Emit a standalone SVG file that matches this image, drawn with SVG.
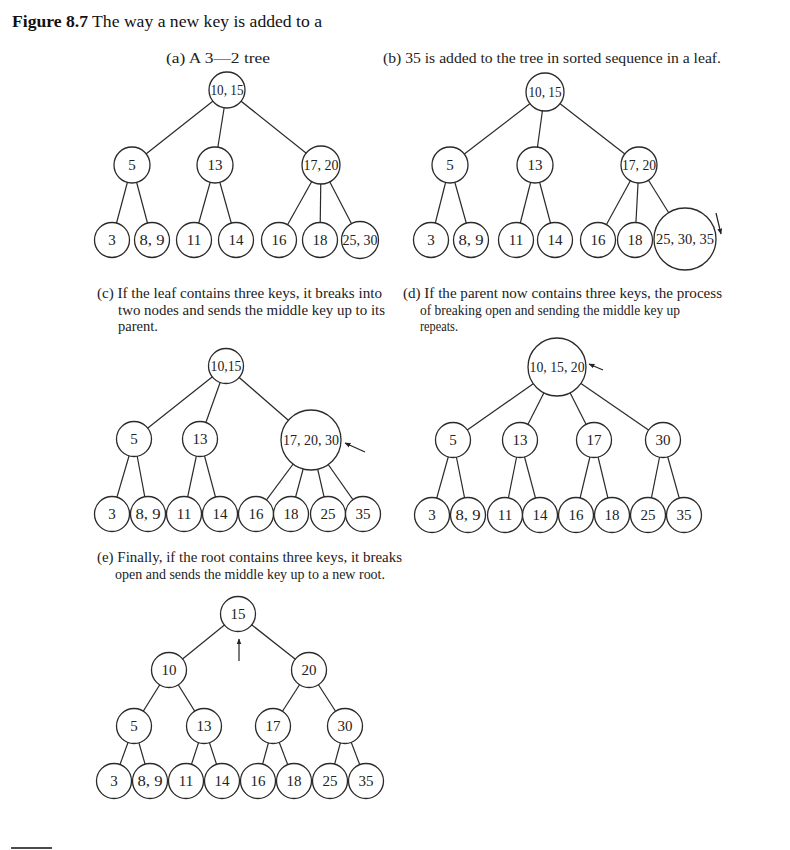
<svg xmlns="http://www.w3.org/2000/svg" width="790" height="850" viewBox="0 0 790 850">
<style>
.n circle{fill:#fff;stroke:#2a2a2a;stroke-width:1.3}
.n text{font-family:"Liberation Serif",serif;font-size:15px;fill:#222;text-anchor:middle;dominant-baseline:central}
.n text.m{font-size:14px}
.e line{stroke:#2a2a2a;stroke-width:1.2}
.a line{stroke:#222;stroke-width:1.2;marker-end:url(#ah)}
.cap{font-family:"Liberation Serif",serif;font-size:14px;fill:#222}
</style>
<defs>
<marker id="ah" viewBox="0 0 10 10" refX="9" refY="5" markerWidth="6" markerHeight="6" orient="auto" markerUnits="userSpaceOnUse">
<path d="M0,1 L10,5 L0,9 z" fill="#222"/>
</marker>
</defs>
<rect width="790" height="850" fill="#fff"/>
<text x="12" y="27" font-family="Liberation Serif,serif" font-size="17" fill="#111" textLength="310" lengthAdjust="spacingAndGlyphs"><tspan font-weight="bold">Figure 8.7</tspan> The way a new key is added to a</text>

<!-- captions -->
<g id="captions">
<text class="cap" x="166" y="63" textLength="104" lengthAdjust="spacingAndGlyphs">(a) A 3—2 tree</text>
<text class="cap" x="383" y="63" textLength="338" lengthAdjust="spacingAndGlyphs">(b) 35 is added to the tree in sorted sequence in a leaf.</text>
<text class="cap" x="97" y="298" textLength="285" lengthAdjust="spacingAndGlyphs">(c) If the leaf contains three keys, it breaks into</text>
<text class="cap" x="118" y="315" textLength="267" lengthAdjust="spacingAndGlyphs">two nodes and sends the middle key up to its</text>
<text class="cap" x="118" y="331" textLength="40" lengthAdjust="spacingAndGlyphs">parent.</text>
<text class="cap" x="403" y="298" textLength="319" lengthAdjust="spacingAndGlyphs">(d) If the parent now contains three keys, the process</text>
<text class="cap" x="420" y="315" textLength="260" lengthAdjust="spacingAndGlyphs">of breaking open and sending the middle key up</text>
<text class="cap" x="420" y="331" textLength="38" lengthAdjust="spacingAndGlyphs">repeats.</text>
<text class="cap" x="97" y="562" textLength="305" lengthAdjust="spacingAndGlyphs">(e) Finally, if the root contains three keys, it breaks</text>
<text class="cap" x="115" y="579" textLength="270" lengthAdjust="spacingAndGlyphs">open and sends the middle key up to a new root.</text>
</g>

<!-- connectors -->
<g id="connectors">
<g class="e">
<!-- a -->
<line x1="227" y1="90" x2="132" y2="165"/><line x1="227" y1="90" x2="215" y2="165"/><line x1="227" y1="90" x2="321" y2="165"/>
<line x1="132" y1="165" x2="112" y2="240"/><line x1="132" y1="165" x2="152" y2="240"/>
<line x1="215" y1="165" x2="194" y2="240"/><line x1="215" y1="165" x2="236" y2="240"/>
<line x1="321" y1="165" x2="279" y2="240"/><line x1="321" y1="165" x2="320" y2="240"/><line x1="321" y1="165" x2="360" y2="240"/>
<!-- b -->
<line x1="545" y1="92" x2="450" y2="165"/><line x1="545" y1="92" x2="535" y2="165"/><line x1="545" y1="92" x2="639" y2="165"/>
<line x1="450" y1="165" x2="431" y2="240"/><line x1="450" y1="165" x2="471" y2="240"/>
<line x1="535" y1="165" x2="516" y2="240"/><line x1="535" y1="165" x2="555" y2="240"/>
<line x1="639" y1="165" x2="598" y2="240"/><line x1="639" y1="165" x2="635" y2="240"/><line x1="639" y1="165" x2="685" y2="239"/>
<!-- c -->
<line x1="226" y1="366" x2="134" y2="439"/><line x1="226" y1="366" x2="200" y2="439"/><line x1="226" y1="366" x2="311" y2="440"/>
<line x1="134" y1="439" x2="112" y2="514"/><line x1="134" y1="439" x2="148" y2="514"/>
<line x1="200" y1="439" x2="184" y2="514"/><line x1="200" y1="439" x2="220" y2="514"/>
<line x1="311" y1="440" x2="256" y2="514"/><line x1="311" y1="440" x2="291" y2="514"/><line x1="311" y1="440" x2="328" y2="514"/><line x1="311" y1="440" x2="363" y2="514"/>
<!-- d -->
<line x1="557" y1="367" x2="453" y2="440"/><line x1="557" y1="367" x2="520" y2="440"/><line x1="557" y1="367" x2="594" y2="440"/><line x1="557" y1="367" x2="663" y2="440"/>
<line x1="453" y1="440" x2="432" y2="515"/><line x1="453" y1="440" x2="468" y2="515"/>
<line x1="520" y1="440" x2="505" y2="515"/><line x1="520" y1="440" x2="540" y2="515"/>
<line x1="594" y1="440" x2="576" y2="515"/><line x1="594" y1="440" x2="612" y2="515"/>
<line x1="663" y1="440" x2="648" y2="515"/><line x1="663" y1="440" x2="684" y2="515"/>
<!-- e -->
<line x1="238" y1="614" x2="169" y2="670"/><line x1="238" y1="614" x2="309" y2="670"/>
<line x1="169" y1="670" x2="134" y2="726"/><line x1="169" y1="670" x2="204" y2="726"/>
<line x1="309" y1="670" x2="273" y2="726"/><line x1="309" y1="670" x2="345" y2="726"/>
<line x1="134" y1="726" x2="114" y2="781"/><line x1="134" y1="726" x2="150" y2="781"/>
<line x1="204" y1="726" x2="186" y2="781"/><line x1="204" y1="726" x2="222" y2="781"/>
<line x1="273" y1="726" x2="258" y2="781"/><line x1="273" y1="726" x2="294" y2="781"/>
<line x1="345" y1="726" x2="330" y2="781"/><line x1="345" y1="726" x2="366" y2="781"/>
</g>
<g class="a">
<line x1="716" y1="213" x2="721" y2="234"/>
<line x1="365" y1="452" x2="345" y2="443"/>
<line x1="603" y1="370" x2="589" y2="364"/>
<line x1="239" y1="661" x2="239" y2="639"/>
</g>
</g>

<!-- tree a -->
<g id="tree-a" class="n">
<g id="a-root"><circle cx="227" cy="90" r="18"/><text class="m" x="227" y="90" textLength="33" lengthAdjust="spacingAndGlyphs">10, 15</text></g>
<g id="a-5"><circle cx="132" cy="165" r="18"/><text x="132" y="165">5</text></g>
<g id="a-13"><circle cx="215" cy="165" r="18"/><text x="215" y="165">13</text></g>
<g id="a-1720"><circle cx="321" cy="165" r="19"/><text class="m" x="321" y="165" textLength="35" lengthAdjust="spacingAndGlyphs">17, 20</text></g>
<g id="a-3"><circle cx="112" cy="240" r="17.5"/><text x="112" y="240">3</text></g>
<g id="a-89"><circle cx="152" cy="240" r="17.5"/><text class="m" x="152" y="240" textLength="25" lengthAdjust="spacingAndGlyphs">8, 9</text></g>
<g id="a-11"><circle cx="194" cy="240" r="17.5"/><text x="194" y="240">11</text></g>
<g id="a-14"><circle cx="236" cy="240" r="17.5"/><text x="236" y="240">14</text></g>
<g id="a-16"><circle cx="279" cy="240" r="17.5"/><text x="279" y="240">16</text></g>
<g id="a-18"><circle cx="320" cy="240" r="17.5"/><text x="320" y="240">18</text></g>
<g id="a-2530"><circle cx="360" cy="240" r="18.5"/><text class="m" x="360" y="240" textLength="35" lengthAdjust="spacingAndGlyphs">25, 30</text></g>
</g>

<!-- tree b -->
<g id="tree-b" class="n">
<g id="b-root"><circle cx="545" cy="92" r="19"/><text class="m" x="545" y="92" textLength="33" lengthAdjust="spacingAndGlyphs">10, 15</text></g>
<g id="b-5"><circle cx="450" cy="165" r="18"/><text x="450" y="165">5</text></g>
<g id="b-13"><circle cx="535" cy="165" r="18"/><text x="535" y="165">13</text></g>
<g id="b-1720"><circle cx="639" cy="165" r="18"/><text class="m" x="639" y="165" textLength="34" lengthAdjust="spacingAndGlyphs">17, 20</text></g>
<g id="b-3"><circle cx="431" cy="240" r="17.5"/><text x="431" y="240">3</text></g>
<g id="b-89"><circle cx="471" cy="240" r="17.5"/><text class="m" x="471" y="240" textLength="25" lengthAdjust="spacingAndGlyphs">8, 9</text></g>
<g id="b-11"><circle cx="516" cy="240" r="17.5"/><text x="516" y="240">11</text></g>
<g id="b-14"><circle cx="555" cy="240" r="17.5"/><text x="555" y="240">14</text></g>
<g id="b-16"><circle cx="598" cy="240" r="17.5"/><text x="598" y="240">16</text></g>
<g id="b-18"><circle cx="635" cy="240" r="17.5"/><text x="635" y="240">18</text></g>
<g id="b-253035"><circle cx="685" cy="239" r="31"/><text class="m" x="685" y="239" textLength="58" lengthAdjust="spacingAndGlyphs">25, 30, 35</text></g>
</g>

<!-- tree c -->
<g id="tree-c" class="n">
<g id="c-root"><circle cx="226" cy="366" r="17.5"/><text class="m" x="226" y="366" textLength="31" lengthAdjust="spacingAndGlyphs">10,15</text></g>
<g id="c-5"><circle cx="134" cy="439" r="17.5"/><text x="134" y="439">5</text></g>
<g id="c-13"><circle cx="200" cy="439" r="17.5"/><text x="200" y="439">13</text></g>
<g id="c-172030"><circle cx="311" cy="440" r="30"/><text class="m" x="311" y="440" textLength="56" lengthAdjust="spacingAndGlyphs">17, 20, 30</text></g>
<g id="c-3"><circle cx="112" cy="514" r="17.5"/><text x="112" y="514">3</text></g>
<g id="c-89"><circle cx="148" cy="514" r="17.5"/><text class="m" x="148" y="514" textLength="25" lengthAdjust="spacingAndGlyphs">8, 9</text></g>
<g id="c-11"><circle cx="184" cy="514" r="17.5"/><text x="184" y="514">11</text></g>
<g id="c-14"><circle cx="220" cy="514" r="17.5"/><text x="220" y="514">14</text></g>
<g id="c-16"><circle cx="256" cy="514" r="17.5"/><text x="256" y="514">16</text></g>
<g id="c-18"><circle cx="291" cy="514" r="17.5"/><text x="291" y="514">18</text></g>
<g id="c-25"><circle cx="328" cy="514" r="17.5"/><text x="328" y="514">25</text></g>
<g id="c-35"><circle cx="363" cy="514" r="17.5"/><text x="363" y="514">35</text></g>
</g>

<!-- tree d -->
<g id="tree-d" class="n">
<g id="d-root"><circle cx="557" cy="367" r="29"/><text class="m" x="557" y="367" textLength="55" lengthAdjust="spacingAndGlyphs">10, 15, 20</text></g>
<g id="d-5"><circle cx="453" cy="440" r="17.5"/><text x="453" y="440">5</text></g>
<g id="d-13"><circle cx="520" cy="440" r="17.5"/><text x="520" y="440">13</text></g>
<g id="d-17"><circle cx="594" cy="440" r="17.5"/><text x="594" y="440">17</text></g>
<g id="d-30"><circle cx="663" cy="440" r="17.5"/><text x="663" y="440">30</text></g>
<g id="d-3"><circle cx="432" cy="515" r="17.5"/><text x="432" y="515">3</text></g>
<g id="d-89"><circle cx="468" cy="515" r="17.5"/><text class="m" x="468" y="515" textLength="25" lengthAdjust="spacingAndGlyphs">8, 9</text></g>
<g id="d-11"><circle cx="505" cy="515" r="17.5"/><text x="505" y="515">11</text></g>
<g id="d-14"><circle cx="540" cy="515" r="17.5"/><text x="540" y="515">14</text></g>
<g id="d-16"><circle cx="576" cy="515" r="17.5"/><text x="576" y="515">16</text></g>
<g id="d-18"><circle cx="612" cy="515" r="17.5"/><text x="612" y="515">18</text></g>
<g id="d-25"><circle cx="648" cy="515" r="17.5"/><text x="648" y="515">25</text></g>
<g id="d-35"><circle cx="684" cy="515" r="17.5"/><text x="684" y="515">35</text></g>
</g>

<!-- tree e -->
<g id="tree-e" class="n">
<g id="e-15"><circle cx="238" cy="614" r="17.5"/><text x="238" y="614">15</text></g>
<g id="e-10"><circle cx="169" cy="670" r="17.5"/><text x="169" y="670">10</text></g>
<g id="e-20"><circle cx="309" cy="670" r="17.5"/><text x="309" y="670">20</text></g>
<g id="e-5"><circle cx="134" cy="726" r="17.5"/><text x="134" y="726">5</text></g>
<g id="e-13"><circle cx="204" cy="726" r="17.5"/><text x="204" y="726">13</text></g>
<g id="e-17"><circle cx="273" cy="726" r="17.5"/><text x="273" y="726">17</text></g>
<g id="e-30"><circle cx="345" cy="726" r="17.5"/><text x="345" y="726">30</text></g>
<g id="e-3"><circle cx="114" cy="781" r="17.5"/><text x="114" y="781">3</text></g>
<g id="e-89"><circle cx="150" cy="781" r="17.5"/><text class="m" x="150" y="781" textLength="25" lengthAdjust="spacingAndGlyphs">8, 9</text></g>
<g id="e-11"><circle cx="186" cy="781" r="17.5"/><text x="186" y="781">11</text></g>
<g id="e-14"><circle cx="222" cy="781" r="17.5"/><text x="222" y="781">14</text></g>
<g id="e-16"><circle cx="258" cy="781" r="17.5"/><text x="258" y="781">16</text></g>
<g id="e-18"><circle cx="294" cy="781" r="17.5"/><text x="294" y="781">18</text></g>
<g id="e-25"><circle cx="330" cy="781" r="17.5"/><text x="330" y="781">25</text></g>
<g id="e-35"><circle cx="366" cy="781" r="17.5"/><text x="366" y="781">35</text></g>
</g>

<line x1="11" y1="848" x2="52" y2="848" stroke="#111" stroke-width="1.5"/>
</svg>
